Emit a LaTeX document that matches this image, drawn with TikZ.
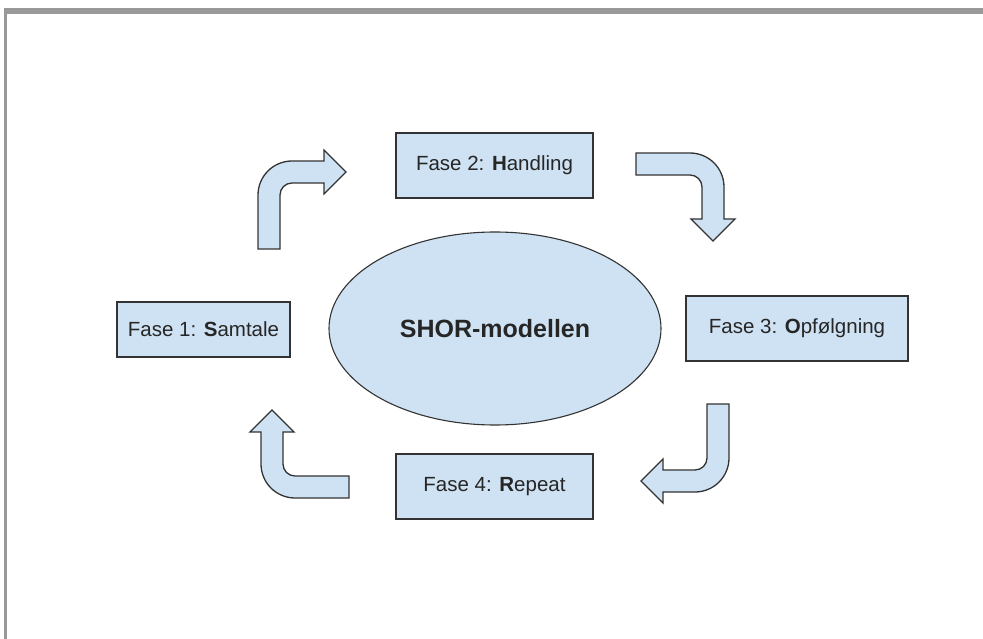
\documentclass[tikz,border=0pt]{standalone}
\usepackage{fontspec}
\setmainfont{Liberation Sans}
\usetikzlibrary{shapes.geometric}
\definecolor{shorblue}{HTML}{CFE2F3}
\definecolor{shorline}{HTML}{333333}
\definecolor{framegray}{HTML}{999999}

% one bent arrow, drawn with its stem foot at the origin
\newcommand{\bentarrow}[1]{%
  \draw[turnarrow, #1] (0,0) -- (0,54)
    arc[start angle=180, end angle=90, radius=34]
    -- (66,88) -- (66,99) -- (88,77) -- (66,55) -- (66,66) -- (34,66)
    arc[start angle=90, end angle=180, radius=12] -- (22,0) -- cycle;}

\tikzset{
  phase/.style={draw=shorline, fill=shorblue, line width=1.4pt,
    text=black!85, font=\fontsize{20.5}{24}\selectfont},
  turnarrow/.style={draw=shorline, fill=shorblue, line width=1.3pt,
    line join=miter}
}

\begin{document}
\begin{tikzpicture}[x=1pt, y=1pt]
    \useasboundingbox (0,0) rectangle (983,-639);
    \fill[framegray] (4,-8) rectangle (983,-14);
    \fill[framegray] (4,-8) rectangle (7,-639);

    \node[draw=shorline, fill=shorblue, ellipse, line width=1.1pt,
      minimum width=332pt, minimum height=193pt, inner sep=0pt,
      font=\fontsize{25}{30}\selectfont\bfseries, text=black!85]
      (Center) at (495,-328.5) {SHOR-modellen};

    \node[phase, minimum width=173pt, minimum height=55pt] (Samtale)
      at (203.5,-329.5) {Fase 1: \textbf{S}amtale};
    \node[phase, minimum width=197pt, minimum height=65pt] (Handling)
      at (494.5,-165.5) {Fase 2: \textbf{H}andling};
    \node[phase, minimum width=222pt, minimum height=65pt] (Opfolgning)
      at (797,-328.5) {Fase 3: \textbf{O}pfølgning};
    \node[phase, minimum width=197pt, minimum height=65pt] (Repeat)
      at (494.5,-486.5) {Fase 4: \textbf{R}epeat};

    \bentarrow{shift={(258,-249)}}
    \bentarrow{shift={(636,-153)}, rotate=-90}
    \bentarrow{shift={(729,-404)}, rotate=180}
    \bentarrow{shift={(349,-498)}, rotate=90}
\end{tikzpicture}
\end{document}
